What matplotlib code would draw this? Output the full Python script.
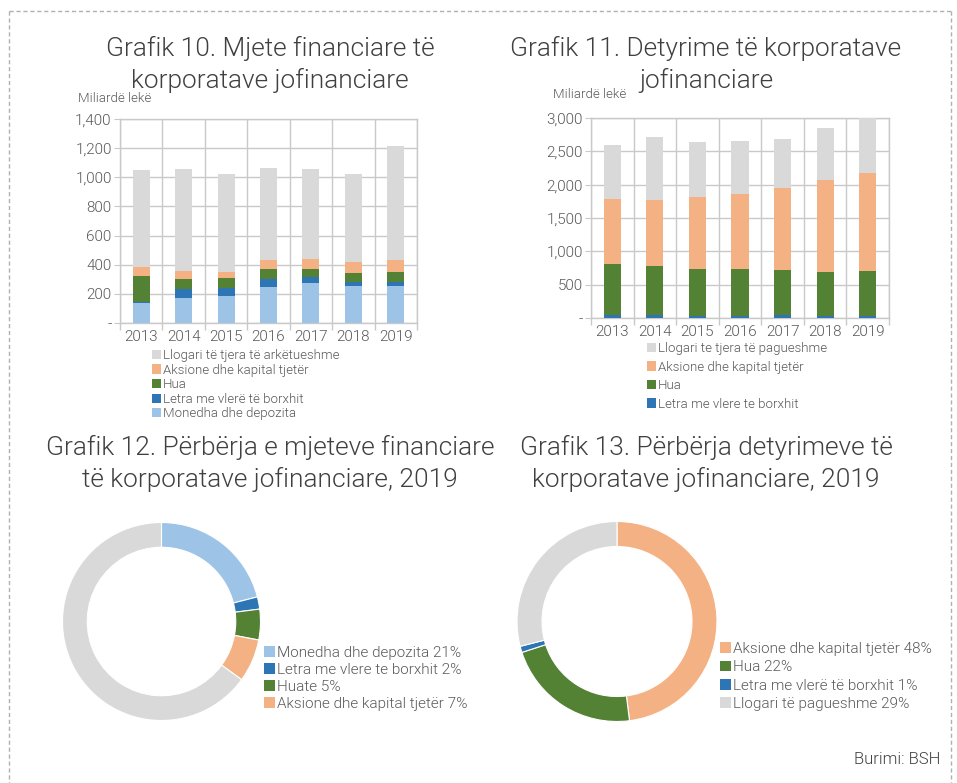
import numpy as np
import matplotlib
matplotlib.use('Agg')
import matplotlib.pyplot as plt
from matplotlib.patches import Patch
from matplotlib.lines import Line2D

plt.rcParams['font.family'] = ['Roboto', 'DejaVu Sans']
plt.rcParams['font.weight'] = 300

# Dados
years = ['2013', '2014', '2015', '2016', '2017', '2018', '2019']

# Grafik 10 - mjete financiare
monedha = [140, 175, 186, 246, 273, 253, 257]
letra_m = [3, 55, 57, 57, 44, 25, 25]
hua_m = [181, 71, 65, 67, 57, 66, 69]
aksione_m = [59, 57, 41, 62, 65, 78, 81]
llogari_m = [669, 700, 673, 629, 617, 602, 783]

# Grafik 11 - detyrime
letra_d = [40, 45, 35, 35, 38, 30, 25]
hua_d = [765, 740, 700, 700, 682, 660, 680]
aksione_d = [975, 980, 1085, 1120, 1225, 1375, 1470]
llogari_d = [820, 950, 820, 800, 740, 790, 890]

# Grafik 12 / 13 - perberja 2019 (%)
pie12_vals = [21, 2, 5, 7, 65]
pie12_labels = ['Monedha dhe depozita 21%', 'Letra me vlere te borxhit 2%',
                'Huate 5%', 'Aksione dhe kapital tjetër 7%']
pie13_vals = [48, 22, 1, 29]
pie13_labels = ['Aksione dhe kapital tjetër 48%', 'Hua 22%',
                'Letra me vlerë të borxhit 1%', 'Llogari të pagueshme 29%']

# Cores
c_ltblue = '#9dc3e6'
c_blue = '#2e75b6'
c_green = '#548235'
c_orange = '#f4b183'
c_gray = '#d9d9d9'
txt = '#595959'
grid_c = '#c9c9c9'

W, H = 957, 783
fig = plt.figure(figsize=(W / 100, H / 100), dpi=100)


def px_axes(x0, y0, x1, y1):
    return fig.add_axes([x0 / W, 1 - y1 / H, (x1 - x0) / W, (y1 - y0) / H])


def bar_axes(ax, series, colors, ymax, ystep):
    x = np.arange(len(years))
    bottom = np.zeros(len(years))
    for vals, col in zip(series, colors):
        ax.bar(x, vals, width=0.4, bottom=bottom, color=col, zorder=3)
        bottom += np.array(vals)
    ax.set_xlim(-0.5, len(years) - 0.5)
    ax.set_ylim(0, ymax)
    yt = np.arange(0, ymax + 1, ystep)
    ax.set_yticks(yt)
    ax.set_yticklabels(['-'] + [f'{v:,}' for v in yt[1:]])
    ax.set_xticks(x)
    ax.set_xticklabels(years)
    ax.set_xticks(np.arange(-0.5, len(years)), minor=True)
    ax.tick_params(axis='x', which='major', length=0, pad=5, labelsize=11, labelcolor=txt)
    ax.tick_params(axis='x', which='minor', length=5, color=grid_c, width=1)
    ax.tick_params(axis='y', length=4, color=grid_c, labelsize=11, labelcolor=txt, pad=2)
    ax.grid(axis='y', which='major', color=grid_c, lw=1, zorder=0)
    ax.grid(axis='x', which='minor', color=grid_c, lw=1, zorder=0)
    for s in ax.spines.values():
        s.set_color(grid_c)
        s.set_linewidth(1)


# Grafik 10
ax1 = px_axes(120, 119, 417, 323)
bar_axes(ax1, [monedha, letra_m, hua_m, aksione_m, llogari_m],
         [c_ltblue, c_blue, c_green, c_orange, c_gray], 1400, 200)

# Grafik 11
ax2 = px_axes(591, 118, 889, 318)
bar_axes(ax2, [letra_d, hua_d, aksione_d, llogari_d],
         [c_blue, c_green, c_orange, c_gray], 3000, 500)

# Titulli (uma linha por texto)
tkw = dict(ha='center', va='center', fontsize=18.9, color='#404040')
titles = [
    (270, 48, 'Grafik 10. Mjete financiare të'),
    (270, 80, 'korporatave jofinanciare'),
    (706, 48, 'Grafik 11. Detyrime të korporatave'),
    (706, 80, 'jofinanciare'),
    (270, 447, 'Grafik 12. Përbërja e mjeteve financiare'),
    (270, 479, 'të korporatave jofinanciare, 2019'),
    (706, 447, 'Grafik 13. Përbërja detyrimeve të'),
    (706, 479, 'korporatave jofinanciare, 2019'),
]
for tx, ty, s in titles:
    fig.text(tx / W, 1 - ty / H, s, **tkw)

fig.text(78 / W, 1 - 98 / H, 'Miliardë lekë', fontsize=9.5, color=txt, va='center')
fig.text(553 / W, 1 - 95 / H, 'Miliardë lekë', fontsize=9.5, color=txt, va='center')


def sq_legend(x, y, labels, colors, fs, spacing, hsz=0.7):
    handles = [Patch(facecolor=c, edgecolor='none') for c in colors]
    leg = fig.legend(handles, labels, loc='upper left', bbox_to_anchor=(x / W, 1 - y / H),
                     frameon=False, fontsize=fs, handlelength=hsz, handleheight=hsz,
                     handletextpad=0.15, labelspacing=spacing, borderpad=0, borderaxespad=0)
    for t in leg.get_texts():
        t.set_color(txt)
    return leg


sq_legend(152, 349, ['Llogari të tjera të arkëtueshme', 'Aksione dhe kapital tjetër', 'Hua',
                     'Letra me vlerë të borxhit', 'Monedha dhe depozita'],
          [c_gray, c_orange, c_green, c_blue, c_ltblue], 9.5, 0.12)
sq_legend(647, 342, ['Llogari te tjera të pagueshme', 'Aksione dhe kapital tjetër', 'Hua',
                     'Letra me vlere te borxhit'],
          [c_gray, c_orange, c_green, c_blue], 9.5, 0.42)

# Donuts
def donut(cx, cy, r, vals, colors):
    ax = px_axes(cx - r, cy - r, cx + r, cy + r)
    ax.pie(vals, colors=colors, startangle=90, counterclock=False,
           wedgeprops=dict(width=0.25, edgecolor='white', linewidth=0.8))
    ax.set_xlim(-1, 1)
    ax.set_ylim(-1, 1)
    ax.set_aspect('equal')
    ax.axis('off')


donut(161.5, 621.5, 99, pie12_vals, [c_ltblue, c_blue, c_green, c_orange, c_gray])
donut(617, 621.5, 100, pie13_vals, [c_orange, c_green, c_blue, c_gray])

sq_legend(264, 646, pie12_labels, [c_ltblue, c_blue, c_green, c_orange], 11, 0.2)
sq_legend(720, 642, pie13_labels, [c_orange, c_green, c_blue, c_gray], 11, 0.28)

fig.text(940 / W, 1 - 760 / H, 'Burimi: BSH', ha='right', va='center', fontsize=12, color='#404040')

# Moldura tracejada
bx0, by0, bx1 = 9 / W, 1 - 11 / H, 951 / W
fig.add_artist(Line2D([bx0, bx1], [by0, by0], transform=fig.transFigure,
                      color='#b0b0b0', lw=1, ls=(0, (3, 2))))
fig.add_artist(Line2D([bx0, bx0], [by0, 0], transform=fig.transFigure,
                      color='#b0b0b0', lw=1, ls=(0, (3, 2))))
fig.add_artist(Line2D([bx1, bx1], [by0, 0], transform=fig.transFigure,
                      color='#b0b0b0', lw=1, ls=(0, (3, 2))))

fig.savefig('out.png', dpi=100, facecolor='white')
